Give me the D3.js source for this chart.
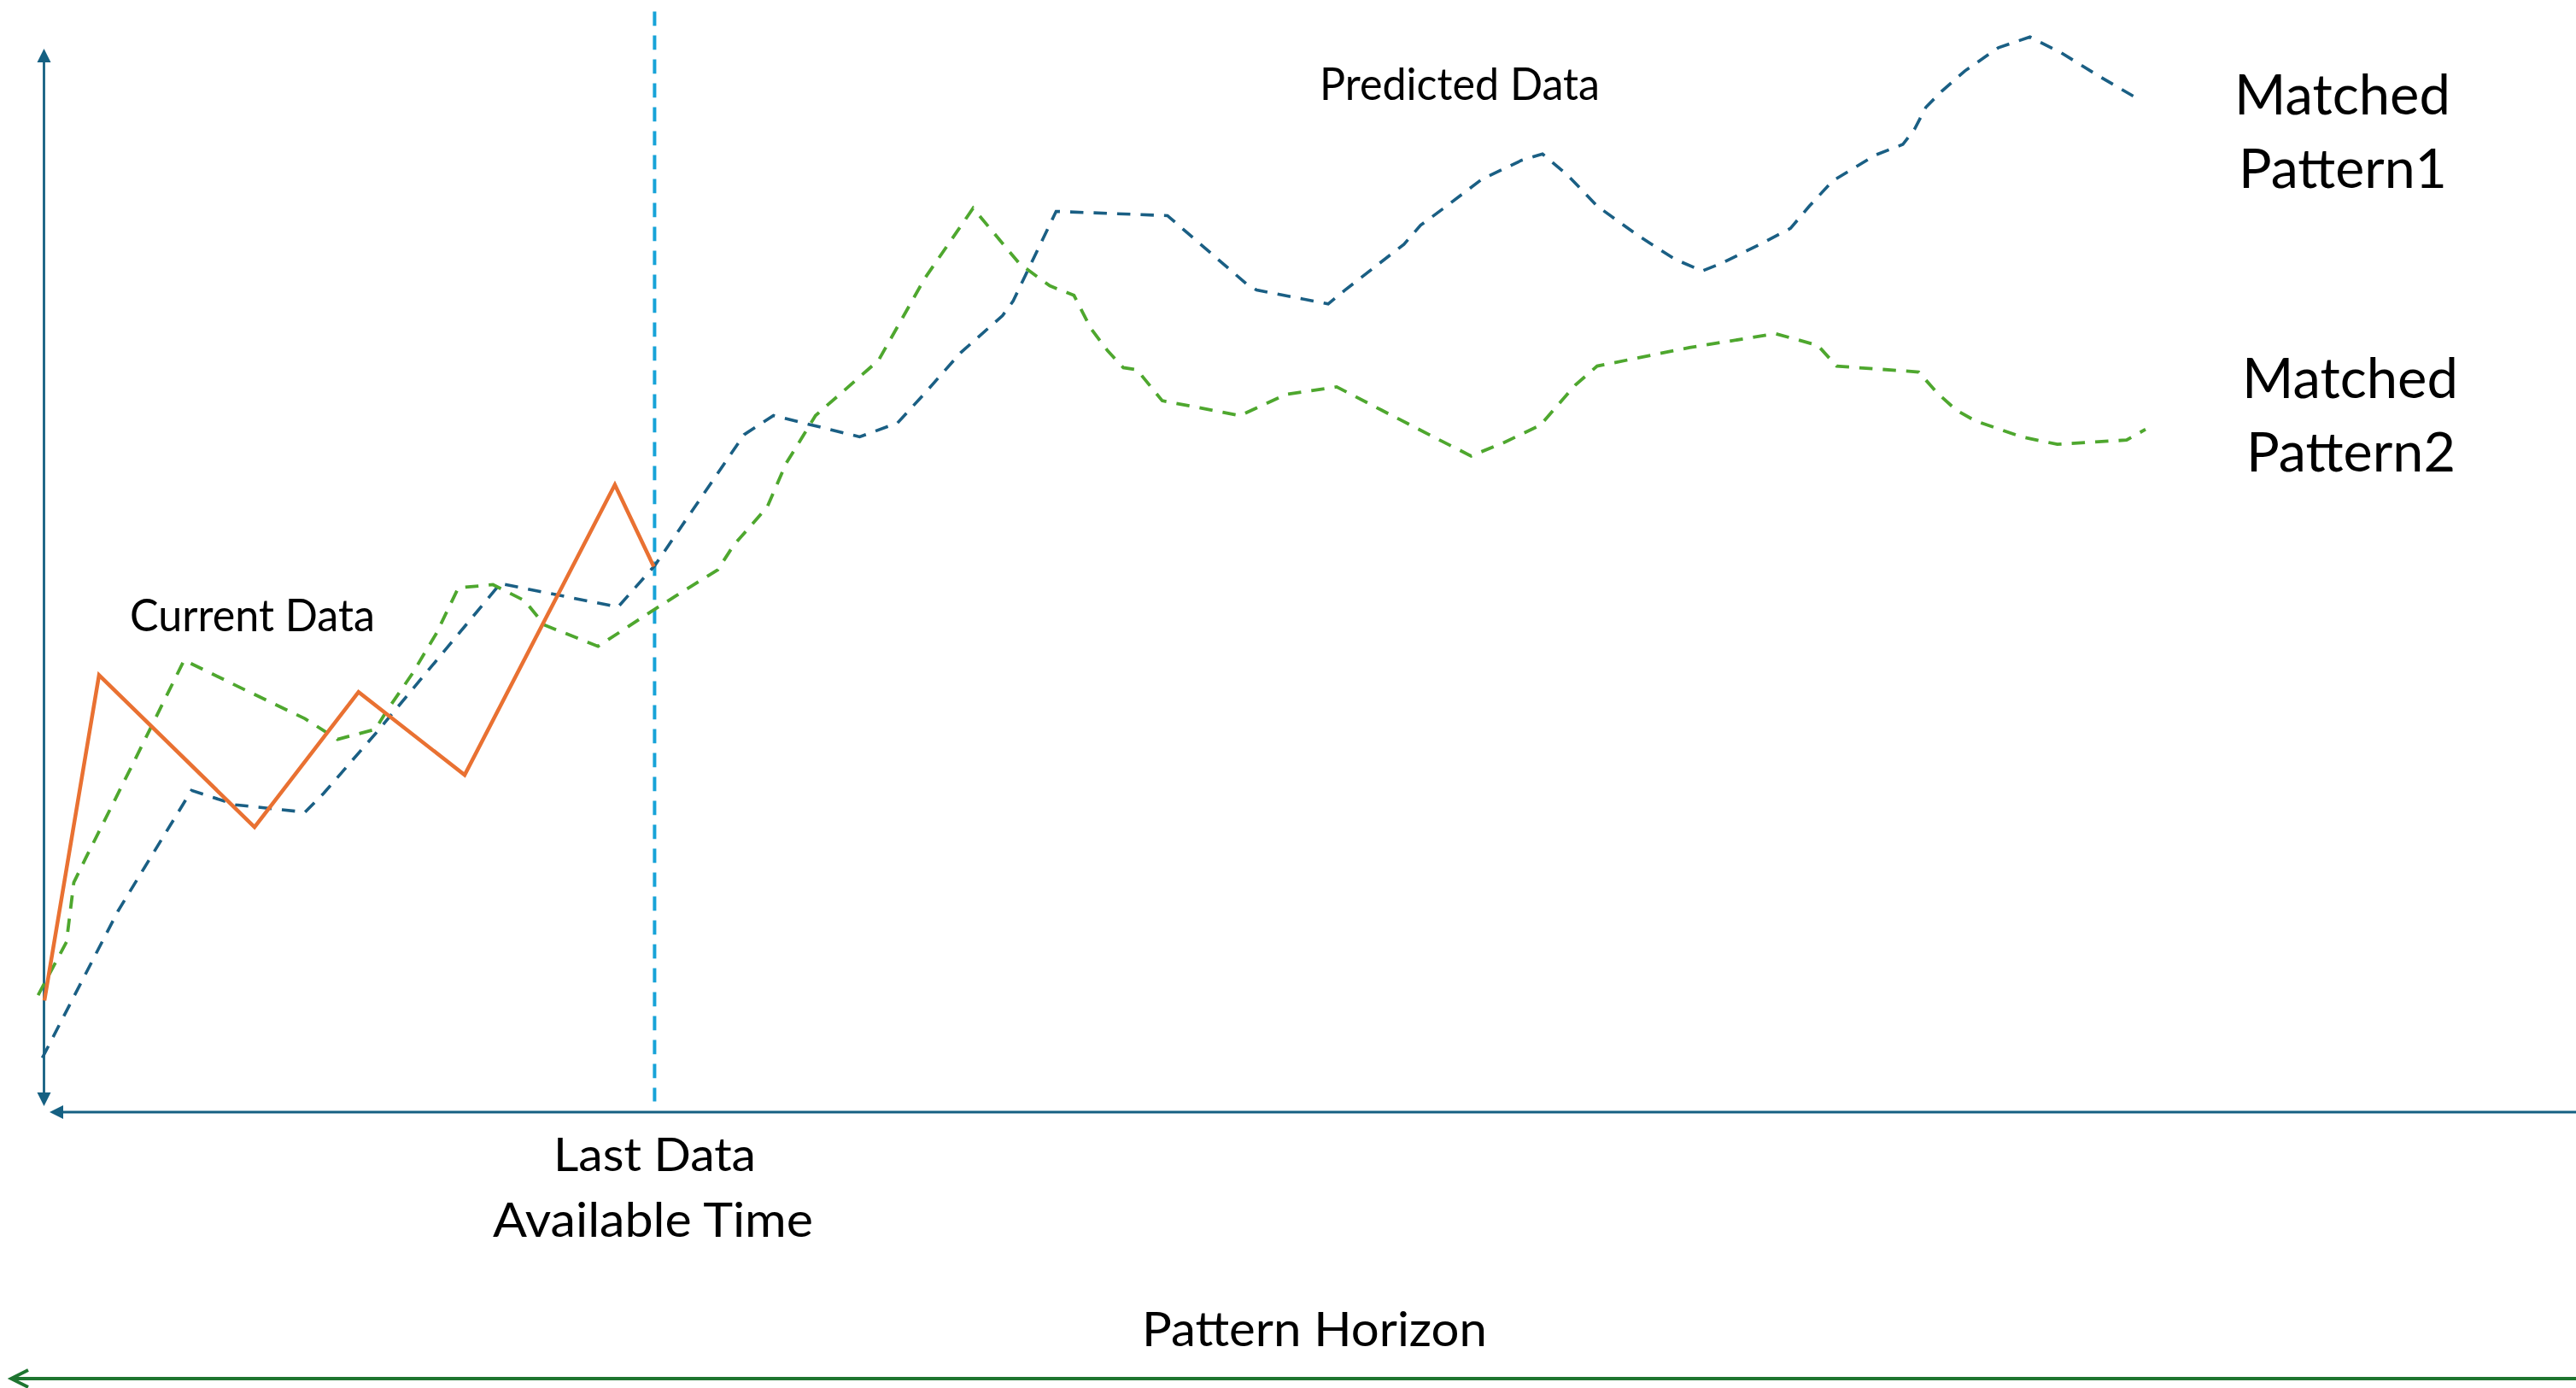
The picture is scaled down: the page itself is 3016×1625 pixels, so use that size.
<!DOCTYPE html>
<html>
<head>
<meta charset="utf-8">
<script src="https://cdn.jsdelivr.net/npm/d3@7"></script>
<style>
  html, body { margin: 0; padding: 0; background: #ffffff; }
  svg { display: block; }
  text { font-family: Lato, "Open Sans", sans-serif; fill: #000; }
</style>
</head>
<body>
<svg id="chart" width="3016" height="1625"></svg>
<script>
// ---- Data (time index 0..100 across the pattern, value 0..100 above the time axis) ----
const currentT   = [0, 2.6, 10.0, 14.95, 20.0, 27.15, 29.0];
const currentV   = [10.5, 41.1, 26.8, 39.5, 31.7, 59.0, 51.3];

const pattern1T = [-0.1, 3.5, 7.0, 9.1, 12.4, 13.3, 15.85, 21.7, 27.3, 29.05, 33.3, 34.7, 38.8, 40.6, 41.9, 43.6, 45.6, 46.1, 48.15,
                   53.45, 57.2, 57.7, 61.1, 61.9, 64.7, 65.5, 66.6, 68.4, 70.3, 71.3, 72.5, 73.9, 75.8, 77.6, 78.9,
                   79.8, 81.65, 83.1, 84.0, 85.1, 87.15, 88.45, 89.0, 89.55, 90.3, 91.4, 93.0, 94.5, 96.0, 97.8, 99.8];
const pattern1V = [5.1, 18.9, 30.25, 28.9, 28.2, 30.0, 35.8, 49.7, 47.5, 51.4, 63.7, 65.5, 63.5, 64.8, 67.6, 71.4, 74.9, 76.25, 84.7,
                   84.3, 77.9, 77.3, 76.0, 77.3, 81.6, 83.4, 85.0, 87.7, 89.5, 90.1, 88.1, 85.2, 82.5, 80.2, 79.1,
                   79.8, 81.6, 83.1, 85.2, 87.55, 90.0, 91.0, 92.4, 94.5, 96.0, 97.9, 100.1, 101.1, 99.6, 97.4, 95.1];

const pattern2T = [-0.3, 1.05, 1.4, 1.97, 4.3, 5.6, 6.65, 9.55, 12.4, 13.95, 15.75, 16.3, 17.5, 18.65, 19.7, 21.35, 22.85, 23.8, 26.35,
                   28.9, 30.1, 32.05, 32.8, 34.4, 35.3, 36.7, 39.7, 41.9, 44.2, 46.4, 47.85, 49.0, 49.8, 50.6, 51.35, 52.0, 53.2,
                   56.9, 59.1, 61.5, 63.65, 66.6, 67.9, 69.5, 71.2, 71.9, 72.85, 73.9, 78.3, 82.4, 84.4, 85.3, 89.2, 90.1, 91.0,
                   91.9, 94.1, 95.8, 99.1, 100.0];
const pattern2V = [11.0, 16.0, 21.6, 23.9, 33.1, 38.3, 42.5, 39.7, 37.0, 35.05, 36.0, 37.75, 41.2, 45.0, 49.3, 49.6, 48.1, 45.8, 43.8,
                   47.1, 48.6, 51.0, 53.3, 56.9, 61.0, 65.5, 70.7, 78.4, 85.0, 79.8, 77.7, 76.8, 73.7, 71.6, 70.0, 69.8, 66.9,
                   65.5, 67.5, 68.2, 66.0, 63.0, 61.7, 63.0, 64.6, 66.2, 68.35, 70.15, 71.9, 73.2, 72.1, 70.15, 69.6, 67.6, 66.0,
                   65.0, 63.5, 62.8, 63.2, 64.2];

const lastDataT = currentT[currentT.length - 1];   // "Last Data Available Time"
const axisTopV = 100;                               // top of the value axis arrow
const cutoffLineV = [1.0, 103.5];                   // extent of the dashed cut-off marker

const labels = {
  current: "Current Data",
  predicted: "Predicted Data",
  matched1: ["Matched", "Pattern1"],
  matched2: ["Matched", "Pattern2"],
  lastData: ["Last Data", "Available Time"],
  horizon: "Pattern Horizon"
};

// ---- Colours ----
const C_AXIS = "#156082", C_ORANGE = "#E97132", C_P1 = "#1A5F84", C_P2 = "#4EA72E",
      C_CUT = "#17A3D8", C_HORIZON = "#1E7530";

// ---- Scales ----
const W = 3016, H = 1625;
const x = d3.scaleLinear().domain([0, 100]).range([52, 2512]);
const y = d3.scaleLinear().domain([0, 100]).range([1302, 57]);

const svg = d3.select("#chart");
const zip = (ts, vs) => ts.map((t, i) => ({ t, v: vs[i] }));
const line = d3.line().x(d => x(d.t)).y(d => y(d.v));

// ---- Axes (arrows) ----
const x0 = x(0), y0 = y(0);
// value axis: double-headed arrow
svg.append("line").attr("x1", x0 - 0.5).attr("x2", x0 - 0.5)
   .attr("y1", y(axisTopV) + 12).attr("y2", y0 - 12)
   .attr("stroke", C_AXIS).attr("stroke-width", 2.8);
svg.append("path").attr("fill", C_AXIS)
   .attr("d", `M${x0 - 0.5},${y(axisTopV)} l8,16 l-16,0 Z`);
svg.append("path").attr("fill", C_AXIS)
   .attr("d", `M${x0 - 0.5},${y0 - 7} l8,-16 l-16,0 Z`);
// time axis: arrow pointing left
svg.append("line").attr("x1", x0 + 16).attr("x2", W)
   .attr("y1", y0).attr("y2", y0)
   .attr("stroke", C_AXIS).attr("stroke-width", 2.8);
svg.append("path").attr("fill", C_AXIS)
   .attr("d", `M${x0 + 6},${y0} l16,-8 l0,16 Z`);

// ---- Cut-off (last data available time) ----
svg.append("line")
   .attr("x1", x(lastDataT) + 1).attr("x2", x(lastDataT) + 1)
   .attr("y1", y(cutoffLineV[1])).attr("y2", y(cutoffLineV[0]))
   .attr("stroke", C_CUT).attr("stroke-width", 4)
   .attr("stroke-dasharray", "16.7,11.3");

// ---- Series ----
svg.append("path").datum(zip(pattern1T, pattern1V))
   .attr("d", line).attr("fill", "none").attr("stroke", C_P1)
   .attr("stroke-width", 3.6).attr("stroke-dasharray", "15.5,12")
   .attr("stroke-linejoin", "miter");
svg.append("path").datum(zip(pattern2T, pattern2V))
   .attr("d", line).attr("fill", "none").attr("stroke", C_P2)
   .attr("stroke-width", 3.8).attr("stroke-dasharray", "15.5,12")
   .attr("stroke-linejoin", "miter");
svg.append("path").datum(zip(currentT, currentV))
   .attr("d", line).attr("fill", "none").attr("stroke", C_ORANGE)
   .attr("stroke-width", 4.5).attr("stroke-linejoin", "miter");

// ---- Pattern horizon arrow ----
const hy = 1614;
svg.append("line").attr("x1", 14).attr("x2", W).attr("y1", hy).attr("y2", hy)
   .attr("stroke", C_HORIZON).attr("stroke-width", 3.8);
svg.append("path").attr("fill", "none").attr("stroke", C_HORIZON).attr("stroke-width", 3.8)
   .attr("stroke-linejoin", "miter")
   .attr("d", `M33,${hy - 10} L13,${hy} L33,${hy + 10}`);

// ---- Text ----
function label(txt, xs, base, size, len, anchor) {
  svg.append("text").attr("x", xs).attr("y", base)
     .attr("font-size", size)
     .attr("textLength", len).attr("lengthAdjust", "spacingAndGlyphs")
     .text(txt);
}
label(labels.current, 152, 739, 52, 287);
label(labels.predicted, 1545, 117, 52, 328);
label(labels.matched1[0], 2616, 134, 65, 253);
label(labels.matched1[1], 2621, 220, 64, 244);
label(labels.matched2[0], 2625, 466, 65, 253);
label(labels.matched2[1], 2630, 552, 64, 245);
label(labels.lastData[0], 648, 1371, 54, 237);
label(labels.lastData[1], 577, 1448, 56, 375);
label(labels.horizon, 1337, 1576, 56, 404);
</script>
</body>
</html>
